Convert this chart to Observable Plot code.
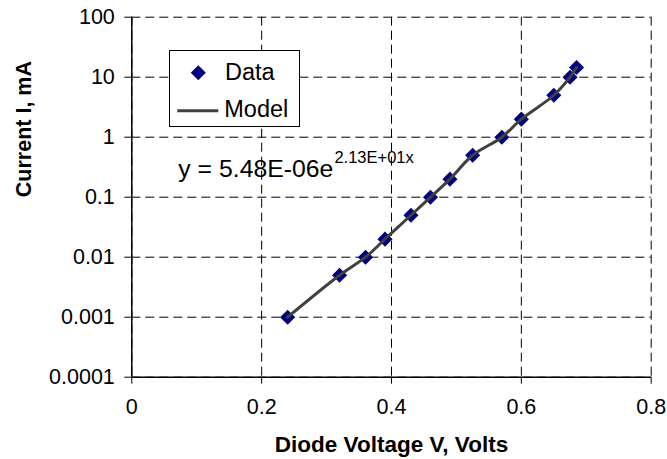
<!DOCTYPE html>
<html><head><meta charset="utf-8">
<script src="https://cdn.jsdelivr.net/npm/d3@7"></script>
<script src="https://cdn.jsdelivr.net/npm/@observablehq/plot@0.6"></script>
<style>html,body{margin:0;padding:0;background:#fff} #chart svg{display:block}</style>
</head><body><div id="chart"></div>
<script>
// Data
const voltage = [0.24, 0.32, 0.36, 0.39, 0.43, 0.46, 0.49, 0.525, 0.57, 0.60, 0.65, 0.675, 0.685];
const current = [0.001, 0.005, 0.01, 0.02, 0.05, 0.1, 0.2, 0.5, 1, 2, 5, 10, 14.5];
const modelVoltage = [0.24, 0.32, 0.36, 0.39, 0.43, 0.46, 0.49, 0.525, 0.57, 0.60, 0.65, 0.675, 0.685];
const modelCurrent = [0.001, 0.005, 0.01, 0.02, 0.05, 0.1, 0.2, 0.5, 1, 2, 5, 10, 14.5];
const xTicks = [0, 0.2, 0.4, 0.6, 0.8];
const xTickLabels = ["0", "0.2", "0.4", "0.6", "0.8"];
const yTicks = [0.0001, 0.001, 0.01, 0.1, 1, 10, 100];
const yTickLabels = ["0.0001", "0.001", "0.01", "0.1", "1", "10", "100"];
const seriesNames = ["Data", "Model"];
const xTitle = "Diode Voltage V, Volts";
const yTitle = "Current I, mA";
const equationMain = "y = 5.48E-06e";
const equationExp = "2.13E+01x";

const dataTable = voltage.map((v, i) => ({v, c: current[i]}));
const modelTable = modelVoltage.map((v, i) => ({v, c: modelCurrent[i]}));
const xLab = new Map(xTicks.map((t, i) => [t, xTickLabels[i]]));
const yLab = new Map(yTicks.map((t, i) => [t, yTickLabels[i]]));

const FONT = "'Liberation Sans', Arial, sans-serif";
const W = 667, H = 459;
const mL = 131.3, mR = 16.3, mT = 16.7, mB = 82.3;
const grid = {stroke: "#000", strokeOpacity: 1, strokeWidth: 1, strokeDasharray: "9,5"};
const R = 6.8;

const svg = Plot.plot({
  width: W, height: H,
  marginLeft: mL, marginRight: mR, marginTop: mT, marginBottom: mB,
  style: {fontFamily: FONT, fontSize: "21.5px", color: "#000", background: "#fff"},
  x: {domain: [0, 0.8]},
  y: {type: "log", domain: [0.0001, 100]},
  marks: [
    Plot.gridX(xTicks, grid),
    Plot.gridY(yTicks, grid),
    Plot.ruleX([0], {stroke: "#000", strokeWidth: 1.5}),
    Plot.ruleY([0.0001], {stroke: "#000", strokeWidth: 1.5}),
    Plot.dot(dataTable, {x: "v", y: "c", symbol: "diamond2", r: R, fill: "#000080", stroke: "none"}),
    Plot.line(modelTable, {x: "v", y: "c", curve: "catmull-rom", stroke: "#404040", strokeWidth: 3}),
    Plot.axisX(xTicks, {tickSize: 7, tickPadding: 15, fontSize: 21.5, tickFormat: d => xLab.get(d), label: null, stroke: "#000"}),
    Plot.axisY(yTicks, {tickSize: 7, tickPadding: 10, fontSize: 21.5, tickFormat: d => yLab.get(d), label: null, stroke: "#000"}),
    Plot.text([xTitle], {frameAnchor: "bottom", dy: 75, lineAnchor: "bottom", fontWeight: "bold", fontSize: 22.5, fill: "#000"}),
    Plot.text([yTitle], {frameAnchor: "left", rotate: -90, dx: -101.3, lineAnchor: "bottom", fontWeight: "bold", fontSize: 21.5, fill: "#000"})
  ]
});

// Legend box
const s = d3.select(svg);
const lg = s.append("g").attr("font-family", FONT).attr("font-size", 23.5).attr("fill", "#000").attr("text-anchor", "start");
lg.append("rect").attr("x", 169.5).attr("y", 50.5).attr("width", 130).attr("height", 76)
  .attr("fill", "#fff").attr("stroke", "#000").attr("stroke-width", 1);
lg.append("path").attr("d", d3.symbol(d3.symbolDiamond2, Math.PI * R * R)())
  .attr("transform", "translate(198.3,72.7)").attr("fill", "#000080");
lg.append("text").attr("x", 225).attr("y", 80).text(seriesNames[0]);
lg.append("line").attr("x1", 177.3).attr("x2", 218.3).attr("y1", 110.7).attr("y2", 110.7)
  .attr("stroke", "#404040").attr("stroke-width", 3);
lg.append("text").attr("x", 224.3).attr("y", 117.3).text(seriesNames[1]);

// Trend-line equation
const eq = s.append("text").attr("font-family", FONT).attr("fill", "#000").attr("text-anchor", "start")
  .attr("x", 178.3).attr("y", 177.3).attr("font-size", 24.8);
eq.append("tspan").text(equationMain);
eq.append("tspan").attr("font-size", 16.5).attr("dy", -14).attr("dx", 1).text(equationExp);

document.getElementById("chart").appendChild(svg);
</script>
</body></html>
